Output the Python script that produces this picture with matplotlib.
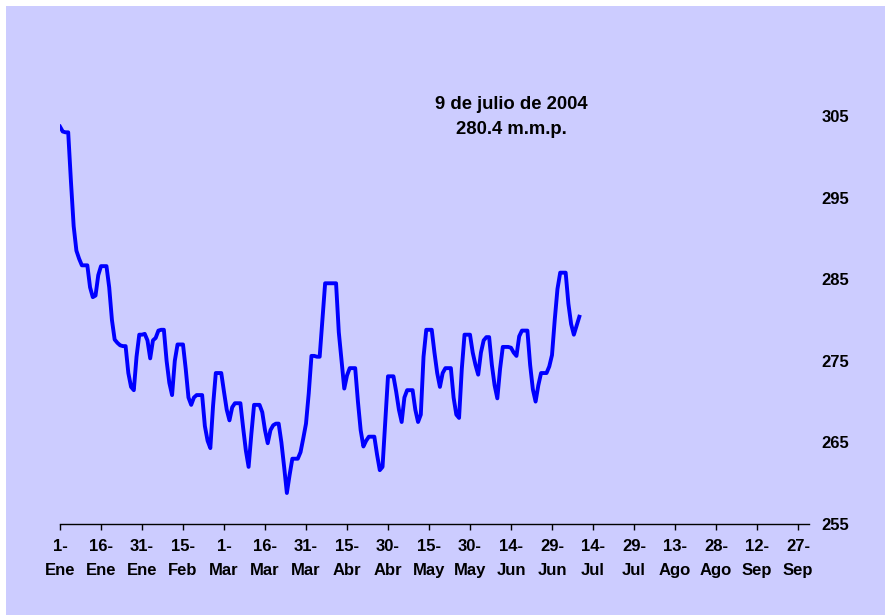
import matplotlib
matplotlib.use("Agg")
import matplotlib.pyplot as plt
from matplotlib.patches import Rectangle
import numpy as np

plt.rcParams['font.family'] = ['Liberation Sans', 'DejaVu Sans']

# daily level, 1-Ene-2004 .. 9-Jul-2004 (m.m.p.)
levels = [
    303.7, 303.1, 303.0, 303.0, 297.0, 291.5, 288.5, 287.5, 286.7, 286.7,
    286.7, 284.0, 282.8, 283.0, 285.5, 286.6, 286.6, 286.6, 284.0, 280.0,
    277.6, 277.2, 276.9, 276.8, 276.8, 273.5, 271.8, 271.4, 275.5, 278.2,
    278.2, 278.3, 277.5, 275.3, 277.5, 277.8, 278.7, 278.8, 278.8, 275.0,
    272.3, 270.8, 275.0, 277.0, 277.0, 277.0, 274.0, 270.5, 269.6, 270.5,
    270.8, 270.8, 270.8, 267.0, 265.2, 264.3, 269.5, 273.5, 273.5, 273.5,
    271.2, 269.0, 267.7, 269.3, 269.8, 269.8, 269.8, 266.8, 264.0, 262.0,
    266.0, 269.6, 269.6, 269.6, 268.7, 266.5, 264.9, 266.5, 267.1, 267.3,
    267.3, 265.0, 262.0, 258.8, 261.0, 263.0, 263.0, 263.0, 263.8, 265.5,
    267.3, 271.0, 275.6, 275.6, 275.5, 275.5, 280.0, 284.5, 284.5, 284.5,
    284.5, 284.5, 278.5, 275.0, 271.6, 273.2, 274.1, 274.1, 274.1, 270.0,
    266.5, 264.5, 265.2, 265.7, 265.7, 265.7, 263.5, 261.6, 262.0, 267.5,
    273.1, 273.1, 273.1, 271.2, 269.0, 267.5, 270.5, 271.4, 271.4, 271.4,
    269.0, 267.5, 268.4, 275.5, 278.8, 278.8, 278.8, 276.0, 273.5, 271.8,
    273.5, 274.1, 274.1, 274.1, 270.5, 268.4, 268.0, 274.0, 278.2, 278.2,
    278.2, 276.0, 274.5, 273.3, 276.0, 277.5, 277.9, 277.9, 274.5, 272.0,
    270.4, 274.0, 276.7, 276.7, 276.7, 276.6, 276.0, 275.6, 278.0, 278.7,
    278.7, 278.7, 274.5, 271.5, 270.0, 272.0, 273.5, 273.5, 273.5, 274.3,
    275.7, 280.0, 283.8, 285.8, 285.8, 285.8, 282.0, 279.5, 278.2, 279.3,
    280.4,
]

tick_days = list(range(0, 271, 15))
tick_labels = ["1-\nEne", "16-\nEne", "31-\nEne", "15-\nFeb", "1-\nMar",
               "16-\nMar", "31-\nMar", "15-\nAbr", "30-\nAbr", "15-\nMay",
               "30-\nMay", "14-\nJun", "29-\nJun", "14-\nJul", "29-\nJul",
               "13-\nAgo", "28-\nAgo", "12-\nSep", "27-\nSep"]
y_ticks = [255, 265, 275, 285, 295, 305]

W, H = 887, 615
fig = plt.figure(figsize=(W / 100, H / 100), dpi=100, facecolor='white')

# lavender panel behind everything
fig.patches.append(Rectangle((6 / W, 0), 879 / W, (H - 6) / H,
                             transform=fig.transFigure, facecolor='#CCCCFF',
                             edgecolor='none', zorder=-10))

# axes placed so that day 0 sits at x=60px and 255 at y=524px
px_day = 2.7333
px_unit = 8.16
ymax = 315
ax = fig.add_axes([60 / W, (H - 524) / H, 274 * px_day / W, (ymax - 255) * px_unit / H])
ax.set_facecolor('none')
ax.set_zorder(5)

days = np.arange(len(levels))
ax.plot(days, levels, color='#0000FF', lw=2.8, solid_joinstyle='round')

ax.set_xlim(0, 274)
ax.set_ylim(255, ymax)

for s in ['top', 'left', 'right']:
    ax.spines[s].set_visible(False)
ax.spines['bottom'].set_linewidth(1.0)

ax.set_xticks(tick_days)
ax.set_xticklabels(tick_labels, fontsize=12, fontweight='bold', linespacing=1.7)
ax.tick_params(axis='x', direction='out', length=4, width=1, pad=7)

ax.yaxis.tick_right()
ax.set_yticks(y_ticks)
ax.set_yticklabels([str(v) for v in y_ticks], fontsize=12, fontweight='bold')
ax.tick_params(axis='y', length=0, pad=9)

fig.text(511 / W, 1 - 117 / H, "9 de julio de 2004\n280.4 m.m.p.",
         ha='center', va='center', fontsize=13.3, fontweight='bold',
         linespacing=1.6, zorder=6)

fig.savefig("out.png", dpi=100, facecolor=fig.get_facecolor())
